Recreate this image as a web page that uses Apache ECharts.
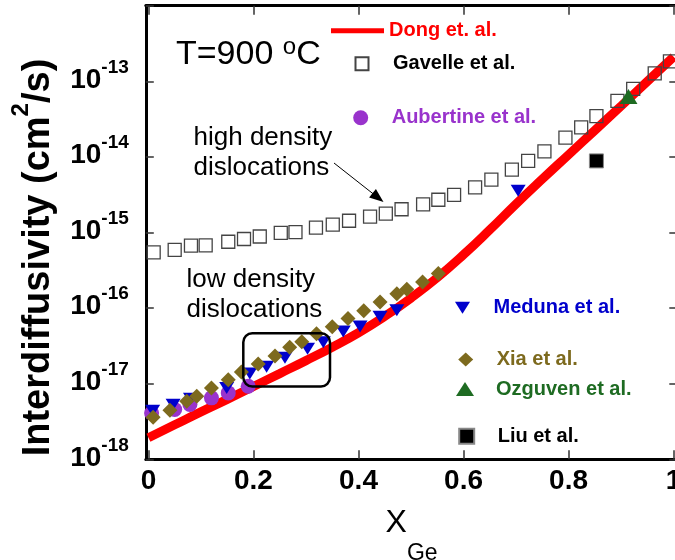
<!DOCTYPE html>
<html><head><meta charset="utf-8">
<script src="https://cdn.jsdelivr.net/npm/echarts@6/dist/echarts.min.js"></script>
<style>html,body{margin:0;padding:0;background:#fff}#c{width:675px;height:560px}</style>
</head><body><div id="c"></div>
<script>
const FONT = '"Liberation Sans", Arial, Helvetica, sans-serif';

// tick values
const xTickValues = [0, 0.2, 0.4, 0.6, 0.8, 1];
const yExponents = [-18, -17, -16, -15, -14, -13];

// Dong et. al. (model curve)
const dongX = [0,0.05,0.1,0.15,0.2,0.25,0.3,0.35,0.4,0.45,0.5,0.55,0.6,0.65,0.7,0.75,0.8,0.85,0.9,0.95,1.0];
const dongD = [1.93e-18,2.86e-18,4.24e-18,6.20e-18,9.19e-18,1.36e-17,2.02e-17,3.04e-17,4.72e-17,7.78e-17,1.36e-16,2.53e-16,5.09e-16,1.085e-15,2.385e-15,5.09e-15,1.069e-14,2.245e-14,4.72e-14,9.97e-14,2.11e-13];

// Gavelle et al.
const gavelleX = [0.010,0.050,0.081,0.109,0.152,0.182,0.212,0.252,0.280,0.319,0.351,0.382,0.422,0.452,0.482,0.523,0.552,0.582,0.622,0.653,0.692,0.723,0.754,0.794,0.824,0.853,0.893,0.923,0.964,0.993];
const gavelleD = [5.46e-16,5.9e-16,6.7e-16,6.75e-16,7.55e-16,8.2e-16,8.85e-16,9.9e-16,1.01e-15,1.16e-15,1.27e-15,1.43e-15,1.62e-15,1.78e-15,2.03e-15,2.35e-15,2.71e-15,3.15e-15,3.96e-15,5.0e-15,6.8e-15,8.85e-15,1.18e-14,1.80e-14,2.46e-14,3.46e-14,5.52e-14,7.94e-14,1.27e-13,1.83e-13];

// Aubertine et al.
const aubertineX = [0.006,0.050,0.079,0.120,0.152,0.190];
const aubertineD = [4.1e-18,4.55e-18,5.3e-18,6.5e-18,7.55e-18,9.25e-18];

// Meduna et al.
const medunaX = [0.008,0.047,0.080,0.149,0.193,0.225,0.260,0.303,0.333,0.371,0.403,0.441,0.473,0.704];
const medunaD = [4.38e-18,5.25e-18,6.3e-18,8.77e-18,1.36e-17,1.68e-17,2.21e-17,2.9e-17,3.54e-17,4.89e-17,5.69e-17,7.7e-17,9.4e-17,3.57e-15];

// Xia et al.
const xiaX = [0.009,0.041,0.073,0.092,0.120,0.152,0.177,0.209,0.241,0.269,0.292,0.320,0.350,0.380,0.410,0.441,0.473,0.492,0.522,0.552];
const xiaD = [3.59e-18,4.44e-18,5.86e-18,6.82e-18,8.77e-18,1.13e-17,1.43e-17,1.82e-17,2.33e-17,3.04e-17,3.59e-17,4.58e-17,5.66e-17,7.26e-17,9.25e-17,1.2e-16,1.55e-16,1.77e-16,2.22e-16,2.86e-16];

// Ozguven et al.
const ozguvenX = [0.914];
const ozguvenD = [6.3e-14];

// Liu et al.
const liuX = [0.853];
const liuD = [8.85e-15];

const pairs = (xs, ys) => xs.map((x, i) => [x, ys[i]]);

const C = {
  dong: '#FF0000', gavelle: '#000000', aubertine: '#9933CC', meduna: '#0000CC',
  xia: '#7D6A1E', ozguven: '#1E6B22', liu: '#000000'
};

const TL = 20; // legend text line height
function leg(name, color, cx, cy, w, h, padL, extra) {
  return Object.assign({
    show: true, orient: 'horizontal', padding: 0, selectedMode: false,
    left: cx - w / 2, top: cy - Math.max(h, TL) / 2,
    itemWidth: w, itemHeight: h, data: [name],
    textStyle: { color: color, fontSize: 20, fontWeight: 'bold', fontFamily: FONT,
      lineHeight: TL, padding: [0, 0, 0, padL] }
  }, extra || {});
}

const axisBase = {
  axisLine: { show: true, onZero: false, lineStyle: { color: '#000', width: 3 } },
  axisTick: { show: true, inside: true, length: 8, lineStyle: { color: '#333', width: 1.5 } },
  splitLine: { show: false }
};

const chart = echarts.init(document.getElementById('c'), null, { renderer: 'canvas' });
chart.setOption({
  animation: false,
  backgroundColor: '#fff',
  textStyle: { fontFamily: FONT },
  grid: { left: 145.8, top: 5.7, width: 531.5, height: 453.6, outerBoundsMode: 'none', containLabel: false },
  xAxis: [
    Object.assign({}, axisBase, {
      type: 'value', position: 'bottom', min: -0.005, max: 1.007,
      axisTick: Object.assign({}, axisBase.axisTick, { customValues: xTickValues, length: 9 }),
      axisLabel: { show: true, customValues: xTickValues, margin: 8, fontSize: 28, fontWeight: 'bold',
        color: '#000', fontFamily: FONT, lineHeight: 28 },
      name: '{x|X}{g|Ge}', nameLocation: 'middle', nameGap: 48,
      nameTextStyle: { verticalAlign: 'top', rich: {
        x: { fontSize: 32, lineHeight: 32, verticalAlign: 'top', color: '#000', fontFamily: FONT },
        g: { fontSize: 23, lineHeight: 23, verticalAlign: 'top', padding: [35, 0, 0, 0], color: '#000', fontFamily: FONT }
      } }
    }),
    Object.assign({}, axisBase, {
      type: 'value', position: 'top', min: -0.005, max: 1.007,
      axisTick: Object.assign({}, axisBase.axisTick, { customValues: xTickValues, length: 9 }),
      axisLabel: { show: false }
    })
  ],
  yAxis: [
    Object.assign({}, axisBase, {
      type: 'log', logBase: 10, min: 1e-18, max: 1e-12, position: 'left',
      axisLabel: {
        show: true, margin: 17, color: '#000', fontFamily: FONT, padding: [0, 0, 11, 0],
        formatter: function (v) {
          const e = Math.round(Math.log10(v));
          return yExponents.indexOf(e) >= 0 ? '{a|10}{s|' + e + '}' : '';
        },
        rich: {
          a: { fontSize: 28, fontWeight: 'bold', lineHeight: 36, verticalAlign: 'bottom', color: '#000', fontFamily: FONT },
          s: { fontSize: 19, fontWeight: 'bold', lineHeight: 19, verticalAlign: 'top', color: '#000', fontFamily: FONT }
        }
      }
    }),
    Object.assign({}, axisBase, {
      type: 'log', logBase: 10, min: 1e-18, max: 1e-12, position: 'right',
      axisLabel: { show: false }
    })
  ],
  legend: [
    leg('Dong et. al.', C.dong, 331 + 26.5, 30.8, 53, 5, 0, { icon: 'rect', itemStyle: { color: C.dong } }),
    leg('Gavelle et al.', C.gavelle, 361, 63.7, 13, 13, 19.5),
    leg('Aubertine et al.', C.aubertine, 360.7, 117.7, 15, 15, 18.5),
    leg('Meduna et al.', C.meduna, 462.5, 307.8, 15, 12, 18.5, { icon: 'path://M0,0L15,0L7.5,12Z', itemStyle: { color: C.meduna } }),
    leg('Xia et al.', C.xia, 465.7, 359.6, 15, 14, 18.5),
    leg('Ozguven et al.', C.ozguven, 465, 389, 18, 14, 17),
    leg('Liu et al.', C.liu, 465.7, 436.2, 15, 15, 18.5)
  ],
  series: [
    { name: 'Dong et. al.', type: 'line', data: pairs(dongX, dongD), smooth: 0.5, showSymbol: false, symbol: 'none',
      color: C.dong, lineStyle: { color: C.dong, width: 9 }, z: 2, clip: true },
    { name: 'Aubertine et al.', type: 'scatter', data: pairs(aubertineX, aubertineD), symbol: 'circle', symbolSize: 15,
      itemStyle: { color: C.aubertine, opacity: 1 }, z: 3 },
    { name: 'Meduna et al.', type: 'scatter', data: pairs(medunaX, medunaD), symbol: 'triangle', symbolRotate: 180,
      symbolSize: [15, 12], itemStyle: { color: C.meduna, opacity: 1 }, z: 4 },
    { name: 'Xia et al.', type: 'scatter', data: pairs(xiaX, xiaD), symbol: 'diamond', symbolSize: [15, 15],
      itemStyle: { color: C.xia, opacity: 1 }, z: 5 },
    { name: 'Gavelle et al.', type: 'scatter', data: pairs(gavelleX, gavelleD), symbol: 'rect', symbolSize: 13,
      itemStyle: { color: 'rgba(255,255,255,0)', borderColor: '#444', borderWidth: 1.3, opacity: 1 }, z: 6 },
    { name: 'Ozguven et al.', type: 'scatter', data: pairs(ozguvenX, ozguvenD), symbol: 'triangle', symbolSize: [18, 15],
      itemStyle: { color: C.ozguven, opacity: 1 }, z: 7 },
    { name: 'Liu et al.', type: 'scatter', data: pairs(liuX, liuD), symbol: 'rect', symbolSize: 14,
      itemStyle: { color: '#000', borderColor: '#888', borderWidth: 1, opacity: 1 }, z: 7 }
  ],
  graphic: [
    { type: 'text', x: 39, y: 257.5, rotation: Math.PI / 2, z: 100, style: {
      text: '{a|Interdiffusivity (cm}{s|2}{a|/s)}', align: 'center', verticalAlign: 'middle', fill: '#000',
      rich: {
        a: { fontSize: 38, fontWeight: 'bold', lineHeight: 60, fontFamily: FONT, fill: '#000' },
        s: { fontSize: 24, fontWeight: 'bold', lineHeight: 24, verticalAlign: 'top', fontFamily: FONT, fill: '#000' }
      } } },
    { type: 'text', x: 176, y: 35, z: 100, style: {
      text: '{m|T=900 }{s|o}{m|C}', fill: '#000', verticalAlign: 'top', fontFamily: FONT,
      rich: {
        m: { fontSize: 34, lineHeight: 34, padding: [5, 0, 0, 0], fontFamily: FONT, fill: '#000' },
        s: { fontSize: 24, lineHeight: 24, verticalAlign: 'top', fontFamily: FONT, fill: '#000' }
      } } },
    { type: 'text', x: 193.5, y: 122.6, z: 100, style: {
      text: 'high density\ndislocations', fontSize: 26, lineHeight: 30, fontFamily: FONT, fill: '#000', verticalAlign: 'top' } },
    { type: 'text', x: 186.5, y: 264.6, z: 100, style: {
      text: 'low density\ndislocations', fontSize: 26, lineHeight: 30, fontFamily: FONT, fill: '#000', verticalAlign: 'top' } },
    { type: 'line', z: 100, shape: { x1: 334, y1: 163, x2: 374, y2: 194.5 }, style: { stroke: '#000', lineWidth: 1 } },
    { type: 'polygon', z: 100, shape: { points: [[383.5, 202], [369.1, 197.6], [375.9, 189.0]] }, style: { fill: '#000' } },
    { type: 'rect', z: 100, shape: { x: 243.3, y: 333.3, width: 86.7, height: 53.3, r: 9 },
      style: { fill: 'none', stroke: '#000', lineWidth: 2.5 } }
  ]
});
</script>
</body></html>
